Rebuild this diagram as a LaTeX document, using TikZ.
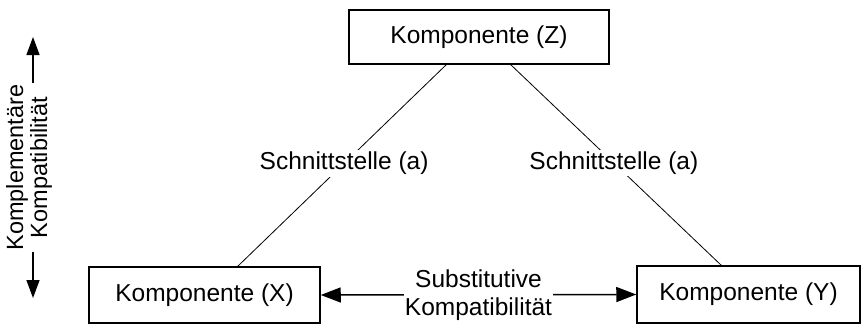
\documentclass[tikz,border=0pt]{standalone}
\usepackage{fontspec}
\setmainfont{Liberation Sans}
\usetikzlibrary{arrows.meta}
\begin{document}
\begin{tikzpicture}[x=1pt,y=-1pt,
  comp/.style={draw,line width=1.5pt,inner sep=0pt,font=\fontsize{24.5}{29}\selectfont},
  lbl/.style={fill=white,inner sep=2pt,font=\fontsize{24.5}{29}\selectfont,align=center},
  link/.style={line width=0.8pt},
  dbl/.style={line width=1.5pt,{Triangle[length=20pt,width=15pt]}-{Triangle[length=20pt,width=15pt]}},
  vdbl/.style={line width=1.5pt,{Triangle[length=18pt,width=13pt]}-{Triangle[length=18pt,width=13pt]}}]
\useasboundingbox (0,0) rectangle (862,324);
\node[comp,minimum width=260pt,minimum height=54pt] (Z) at (479,37) {Komponente (Z)};
\node[comp,minimum width=231pt,minimum height=56pt] (X) at (204.5,295) {Komponente (X)};
\node[comp,minimum width=223pt,minimum height=57pt] (Y) at (748.5,294.5) {Komponente (Y)};
\coordinate (zl) at (447,64);
\coordinate (zr) at (510,64);
\coordinate (xt) at (237,267);
\coordinate (yt) at (722,266);
\draw[link] (zl) -- node[lbl,pos=0.49] (la) {Schnittstelle (a)} (xt);
\draw[link] (zr) -- node[lbl,pos=0.49] (lb) {Schnittstelle (a)} (yt);
\draw[dbl] (X.east) -- node[lbl,inner sep=1pt,font=\fontsize{24.5}{28}\selectfont] (sk) {Substitutive\\Kompatibilität} (Y.west);
\coordinate (vt) at (33,37);
\coordinate (vb) at (33,298);
\draw[vdbl] (vb) -- node[lbl,rotate=90,inner sep=2pt,pos=0.5,yshift=4pt,font=\fontsize{23.5}{24}\selectfont] (kk) {Komplementäre\\Kompatibilität} (vt);
\end{tikzpicture}
\end{document}
